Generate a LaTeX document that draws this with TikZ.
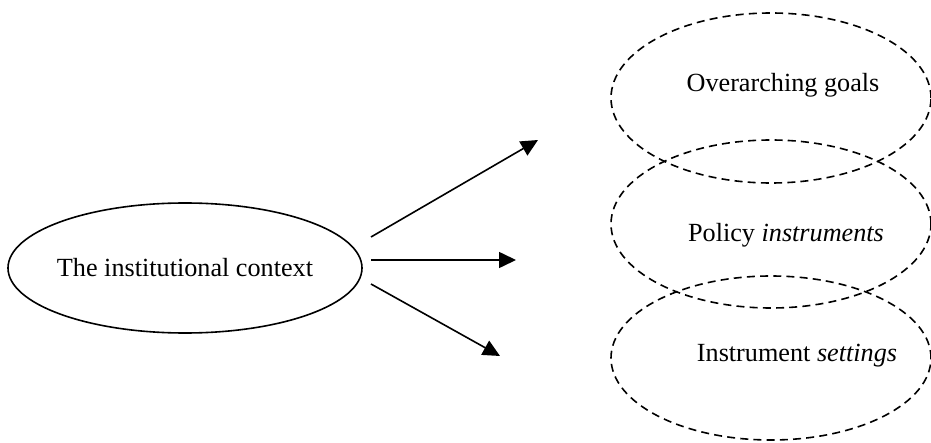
\documentclass[tikz,border=0pt]{standalone}
\usepackage{fontspec}
\setmainfont{Liberation Serif}
\usetikzlibrary{arrows.meta,shapes.geometric}
\begin{document}
\begin{tikzpicture}[x=0.5pt,y=-0.5pt,
  solidell/.style={draw=black,line width=0.8pt,ellipse,inner sep=0pt},
  dashell/.style={draw=black,line width=0.8pt,dash pattern=on 4pt off 2.6pt,ellipse,inner sep=0pt},
  lbl/.style={font=\fontsize{13.1}{15}\selectfont,inner sep=0pt},
  arr/.style={line width=0.8pt,-{Triangle[length=8.5pt,width=8pt]}}]
\useasboundingbox (0,0) rectangle (931,443);
% right dashed ellipses
\node[dashell,minimum width=320pt*0.5,minimum height=170pt*0.5] (goalsE) at (771,98) {};
\node[dashell,minimum width=320pt*0.5,minimum height=168pt*0.5] (instrE) at (771,224) {};
\node[dashell,minimum width=320pt*0.5,minimum height=164pt*0.5] (settE) at (771,358) {};
\node[lbl] (goals) at (783,85) {Overarching goals};
\node[lbl] (instr) at (786,235) {Policy \textit{instruments}};
\node[lbl] (sett) at (797,356) {Instrument \textit{settings}};
% left ellipse
\node[solidell,minimum width=354pt*0.5,minimum height=130pt*0.5] (ctxE) at (185,268) {};
\node[lbl] (ctx) at (185,268) {The institutional context};
% arrow coordinates
\coordinate (s1) at (371,237);
\coordinate (e1) at (538,140);
\coordinate (s2) at (371,260);
\coordinate (e2) at (516,260);
\coordinate (s3) at (371,284);
\coordinate (e3) at (500,356);
\draw[arr] (s1) -- (e1);
\draw[arr] (s2) -- (e2);
\draw[arr] (s3) -- (e3);
\end{tikzpicture}
\end{document}
